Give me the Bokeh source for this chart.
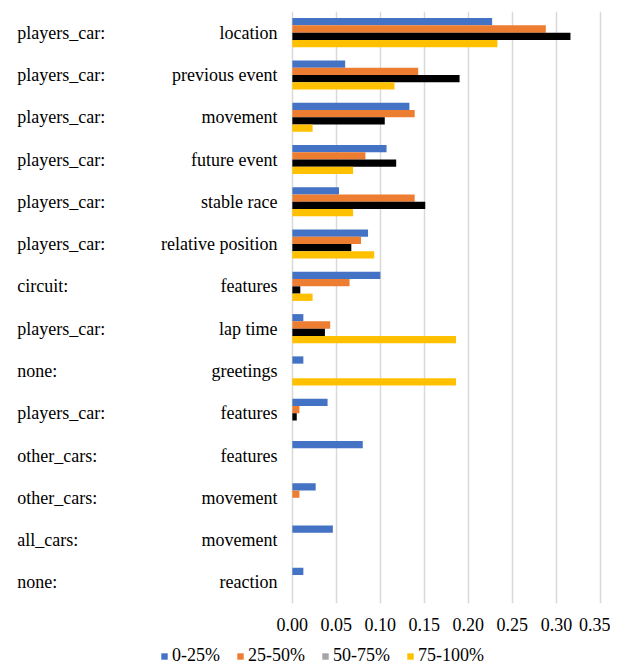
from bokeh.plotting import figure
from bokeh.layouts import column
from bokeh.models import (ColumnDataSource, FactorRange, FixedTicker,
                          NumeralTickFormatter, Legend, LegendItem, Range1d)
from bokeh.transform import dodge
from bokeh.core.properties import value
from bokeh.embed import file_html
from bokeh.resources import INLINE

# ---------------- data ----------------
prefixes = ["players_car:", "players_car:", "players_car:", "players_car:",
            "players_car:", "players_car:", "circuit:", "players_car:",
            "none:", "players_car:", "other_cars:", "other_cars:",
            "all_cars:", "none:"]
suffixes = ["location", "previous event", "movement", "future event",
            "stable race", "relative position", "features", "lap time",
            "greetings", "features", "features", "movement",
            "movement", "reaction"]

s_0_25 = [0.227, 0.060, 0.133, 0.107, 0.053, 0.086, 0.100, 0.0125,
          0.0125, 0.040, 0.080, 0.0265, 0.046, 0.0125]
s_25_50 = [0.288, 0.143, 0.139, 0.083, 0.139, 0.078, 0.065, 0.043,
           0.0, 0.008, 0.0, 0.008, 0.0, 0.0]
s_50_75 = [0.316, 0.190, 0.105, 0.118, 0.151, 0.067, 0.009, 0.037,
           0.0, 0.005, 0.0, 0.0, 0.0, 0.0]
s_75_100 = [0.233, 0.116, 0.023, 0.069, 0.069, 0.093, 0.023, 0.186,
            0.186, 0.0, 0.0, 0.0, 0.0, 0.0]

series_names = ["0-25%", "25-50%", "50-75%", "75-100%"]
x_ticks = [0.00, 0.05, 0.10, 0.15, 0.20, 0.25, 0.30, 0.35]

# ---------------- styling ----------------
FONT = "Liberation Serif"
FS = "18px"
bar_colors = ["#4472C4", "#ED7D31", "#000000", "#FFC000"]
legend_colors = ["#4472C4", "#ED7D31", "#A5A5A5", "#FFC000"]
offsets = [0.258, 0.086, -0.086, -0.258]
BAR_H = 0.172
LABEL_LEFT_X = -0.3125
LABEL_RIGHT_X = -0.017

keys = [f"{a} {b}" for a, b in zip(prefixes, suffixes)]

source = ColumnDataSource(data=dict(
    key=keys, prefix=prefixes, suffix=suffixes,
    s0=s_0_25, s1=s_25_50, s2=s_50_75, s3=s_75_100,
))

p = figure(
    y_range=FactorRange(factors=keys[::-1]),
    x_range=Range1d(-0.318, 0.3615),
    frame_width=598, frame_height=592,
    min_border_left=12, min_border_right=0, min_border_top=11, min_border_bottom=40,
    output_backend="svg", toolbar_location=None,
)
p.outline_line_color = None
p.background_fill_color = "white"
p.border_fill_color = "white"

cols = ["s0", "s1", "s2", "s3"]
for col, color, off in zip(cols, bar_colors, offsets):
    p.hbar(y=dodge("key", off, range=p.y_range), right=col, left=0,
           height=BAR_H, source=source, fill_color=color, line_color=None)

# category labels
p.text(x=LABEL_LEFT_X, y="key", text="prefix", source=source,
       text_font=value(FONT), text_font_size=FS, text_align="left",
       text_baseline="middle", text_color="black")
p.text(x=LABEL_RIGHT_X, y="key", text="suffix", source=source,
       text_font=value(FONT), text_font_size=FS, text_align="right",
       text_baseline="middle", text_color="black")

# axes and grid
p.yaxis.visible = False
p.ygrid.grid_line_color = None
p.xgrid.ticker = FixedTicker(ticks=x_ticks)
p.xgrid.bounds = (0, 0.35)
p.xgrid.grid_line_color = "#D9D9D9"
p.xgrid.grid_line_width = 1.5

xa = p.xaxis[0]
xa.ticker = FixedTicker(ticks=x_ticks)
xa.bounds = (0, 0.35)
xa.formatter = NumeralTickFormatter(format="0.00")
xa.axis_line_color = None
xa.major_tick_line_color = None
xa.minor_tick_line_color = None
xa.major_tick_out = 0
xa.major_tick_in = 0
xa.major_label_standoff = 14
xa.major_label_text_font = FONT
xa.major_label_text_font_size = FS
xa.major_label_text_color = "black"
xa.axis_label = None

# ---------------- legend strip ----------------
pl = figure(width=610, height=25, min_border=0,
            x_axis_location=None, y_axis_location=None,
            x_range=Range1d(0, 1), y_range=Range1d(0, 1),
            output_backend="svg", toolbar_location=None)
pl.outline_line_color = None
pl.xgrid.visible = False
pl.ygrid.visible = False
# zero-width proxy bars: they only supply the legend swatches
proxy_src = ColumnDataSource(data=dict(y=[0.5], r=[0.0]))
proxies = []
for color in legend_colors:
    proxies.append(pl.hbar(y="y", right="r", left="r", height=0.0,
                           source=proxy_src, fill_color=color, line_color=None))

legend = Legend(
    items=[LegendItem(label=n, renderers=[r]) for n, r in zip(series_names, proxies)],
    orientation="horizontal", location=(148, 2),
    glyph_width=8, glyph_height=8, label_standoff=4, spacing=16,
    label_text_font=FONT, label_text_font_size=FS, label_height=20,
    label_text_color="black",
    padding=0, margin=0, border_line_color=None, background_fill_alpha=0,
)
pl.add_layout(legend)

layout = column(p, pl, spacing=0)
open("out.html", "w").write(file_html(layout, INLINE))
